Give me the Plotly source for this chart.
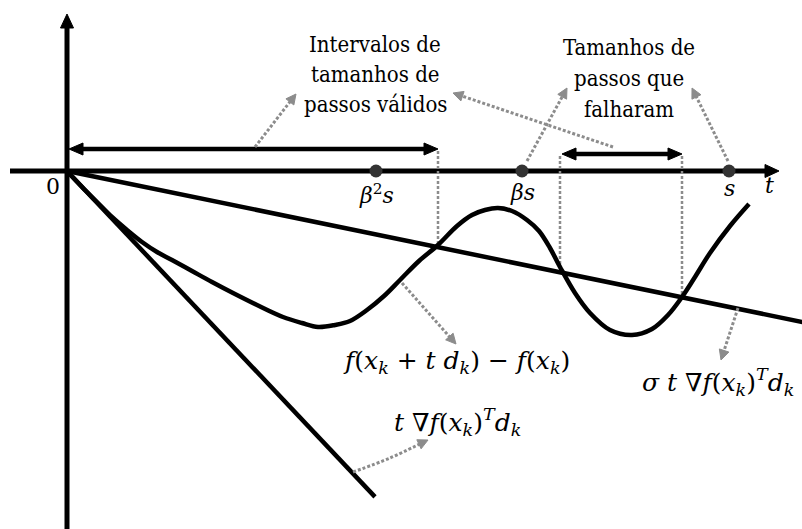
import math
import plotly.graph_objects as go

# ---- Armijo backtracking line search sketch (t axis in drawing units) ----

# trial step sizes: s, βs, β²s
step_labels = ["<i>β</i><sup>2</sup><i>s</i>", "<i>βs</i>", "<i>s</i>"]
step_values = [309, 455, 662]

# slopes of the two rays through the origin
slope_grad = -1.058     # t ∇f(x_k)^T d_k
slope_sigma = -0.2054   # σ t ∇f(x_k)^T d_k
grad_t_end = 308
sigma_t_end = 740

# f(x_k + t d_k) - f(x_k)
curve_t = [0, 15, 30, 45, 60, 75, 90, 105, 125, 145, 166, 190, 216, 235, 251,
           268, 283, 300, 317, 333, 352, 371, 390, 405, 418, 431, 445, 460,
           472, 483, 493, 508, 523, 543, 565, 585, 601, 615, 628, 643, 663, 682]
curve_v = [0, -16, -31, -46, -59, -71, -81, -89, -100, -111, -122, -134, -146,
           -152, -156, -154, -150, -139, -125, -109, -90, -74, -55, -44, -39,
           -37, -40, -49, -60, -77, -96, -122, -142, -159, -164, -158, -144,
           -126, -106, -82, -55, -33]

# accepted / rejected step intervals
valid_interval = [0, 371]
failed_interval = [493, 615]

BLACK = "#000000"
GRAY = "#8c8c8c"
DOT = "#333333"
TEXT_FONT = "DejaVu Serif Condensed"
MATH_FONT = "DejaVu Serif"

fig = go.Figure()


def line(xs, ys, color=BLACK, width=4.5, dash=None, shape="linear", smoothing=1.0):
    fig.add_trace(go.Scatter(
        x=xs, y=ys, mode="lines", hoverinfo="skip",
        line=dict(color=color, width=width, dash=dash, shape=shape, smoothing=smoothing)))


def head(tip, tail, length, width, color=BLACK):
    dx, dy = tip[0] - tail[0], tip[1] - tail[1]
    n = math.hypot(dx, dy)
    ux, uy = dx / n, dy / n
    bx, by = tip[0] - ux * length, tip[1] - uy * length
    px, py = -uy * width / 2, ux * width / 2
    fig.add_trace(go.Scatter(
        x=[tip[0], bx + px, bx - px, tip[0]],
        y=[tip[1], by + py, by - py, tip[1]],
        mode="lines", fill="toself", fillcolor=color, hoverinfo="skip",
        line=dict(color=color, width=1)))


def back(tip, tail, d):
    dx, dy = tip[0] - tail[0], tip[1] - tail[1]
    n = math.hypot(dx, dy)
    return (tip[0] - dx / n * d, tip[1] - dy / n * d)


# axes with arrowheads
line([-57, 700], [0, 0], width=5)
head((712, 0), (0, 0), 14, 13)
line([0, 0], [-365, 145], width=5)
head((0, 157), (0, 0), 14, 13)

# dotted guides at the curve / σ-ray crossings
for t0, top in [(valid_interval[1], 20), (failed_interval[0], 15), (failed_interval[1], 15)]:
    line([t0, t0], [top, slope_sigma * t0], color=GRAY, width=2.5, dash="3px,2px")

# rays and curve
line([0, grad_t_end], [0, slope_grad * grad_t_end], width=4.5)
line([0, sigma_t_end], [0, slope_sigma * sigma_t_end], width=4.5)
line(curve_t, curve_v, width=4.5, shape="spline", smoothing=1.0)

# double arrows for the intervals
for (a, b), yv in [(valid_interval, 22), (failed_interval, 17)]:
    a_tip, b_tip = a + 2, b
    line([a_tip + 10, b_tip - 10], [yv, yv], width=4.5)
    head((a_tip, yv), (b_tip, yv), 14, 12)
    head((b_tip, yv), (a_tip, yv), 14, 12)

# step size dots
fig.add_trace(go.Scatter(
    x=step_values, y=[0] * len(step_values), mode="markers", hoverinfo="skip",
    marker=dict(size=13, color=DOT)))

# dotted leader arrows
leaders = [
    [(188, 24), (229, 77)],
    [(546, 24), (386, 78)],
    [(460, 10), (500, 83)],
    [(661, 10), (625, 83)],
    [(335, -112), (389, -173)],
    [(671, -137), (654, -189)],
    [(286, -301), (323, -287), (361, -269)],
]
for pts in leaders:
    tip, prev = pts[-1], pts[-2]
    end = back(tip, prev, 7)
    xs = [p[0] for p in pts[:-1]] + [end[0]]
    ys = [p[1] for p in pts[:-1]] + [end[1]]
    line(xs, ys, color=GRAY, width=3, dash="3px,2px",
         shape="spline" if len(pts) > 2 else "linear")
    head(tip, prev, 10, 10, color=GRAY)

annotations = []


def label(x, y, text, size=25, family=MATH_FONT):
    annotations.append(dict(
        x=x, y=y, xref="x", yref="y", text=text, showarrow=False,
        xanchor="center", yanchor="middle",
        font=dict(family=family, size=size, color=BLACK)))


# text blocks
for i, s in enumerate(["Intervalos de", "tamanhos de", "passos válidos"]):
    label(308, 127 - 30 * i, s, size=22, family=TEXT_FONT)
for i, s in enumerate(["Tamanhos de", "passos que", "falharam"]):
    label(562, 124 - 31 * i, s, size=22, family=TEXT_FONT)

label(-14, -15, "0", size=22)
for v, s, dy in zip(step_values, step_labels, [-23, -21, -17]):
    label(v, dy, s, size=22)
label(702, -14, "<i>t</i>", size=22)

MATH = 25
label(389, -191, "<i>f</i>(<i>x<sub>k</sub></i> + <i>t d<sub>k</sub></i>) − <i>f</i>(<i>x<sub>k</sub></i>)",
      size=MATH)
label(651, -211, "<i>σ t</i> ∇<i>f</i>(<i>x<sub>k</sub></i>)<sup><i>T</i></sup><i>d<sub>k</sub></i>",
      size=MATH)
label(390, -251, "<i>t</i> ∇<i>f</i>(<i>x<sub>k</sub></i>)<sup><i>T</i></sup><i>d<sub>k</sub></i>",
      size=MATH)

fig.update_layout(
    width=802, height=529,
    margin=dict(l=0, r=0, t=0, b=0),
    paper_bgcolor="white", plot_bgcolor="white",
    showlegend=False,
    xaxis=dict(range=[-67, 735], visible=False, fixedrange=True),
    yaxis=dict(range=[-358, 171], visible=False, fixedrange=True),
    annotations=annotations,
)

fig.write_html("out.html")
